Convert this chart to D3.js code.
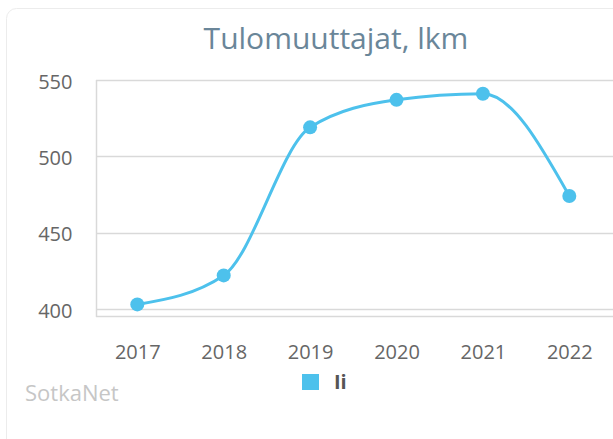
<!DOCTYPE html>
<html>
<head>
<meta charset="utf-8">
<script src="https://cdn.jsdelivr.net/npm/d3@7"></script>
<style>
  body { margin: 0; background: #fff; }
  svg { display: block; font-family: "Open Sans", sans-serif; }
</style>
</head>
<body>
<svg id="chart" width="613" height="439"></svg>
<script>
var years = ["2017", "2018", "2019", "2020", "2021", "2022"];
var values = [403, 422, 519, 537, 541, 474];
var yTicks = [400, 450, 500, 550];
var seriesName = "Ii";
var title = "Tulomuuttajat, lkm";

var svg = d3.select("#chart"),
    plot = {left: 96, right: 613, top: 80, bottom: 316};

// card outline
svg.append("rect")
    .attr("x", 6.5).attr("y", 8.5)
    .attr("width", 640).attr("height", 460)
    .attr("rx", 10)
    .attr("fill", "#fff")
    .attr("stroke", "#ececec");

var x = d3.scalePoint().domain(years).range([137.3, 569.3]);
var y = d3.scaleLinear().domain([400, 550]).range([309, 80]);

// grid
svg.append("g").selectAll("line")
    .data(yTicks)
    .enter().append("line")
    .attr("x1", plot.left).attr("x2", plot.right)
    .attr("y1", function (d) { return Math.round(y(d)) + 0.5; })
    .attr("y2", function (d) { return Math.round(y(d)) + 0.5; })
    .attr("stroke", "#d9d9d9")
    .attr("stroke-width", 1.5);

svg.append("line")
    .attr("x1", plot.left).attr("x2", plot.right)
    .attr("y1", plot.bottom + 0.5).attr("y2", plot.bottom + 0.5)
    .attr("stroke", "#d9d9d9").attr("stroke-width", 1.5);

svg.append("line")
    .attr("x1", plot.left + 0.5).attr("x2", plot.left + 0.5)
    .attr("y1", plot.top).attr("y2", plot.bottom + 1)
    .attr("stroke", "#d9d9d9").attr("stroke-width", 1.5);

// y labels
svg.append("g").selectAll("text")
    .data(yTicks)
    .enter().append("text")
    .attr("x", 72.5)
    .attr("y", function (d) { return y(d) + 8.5; })
    .attr("text-anchor", "end")
    .attr("font-size", 20)
    .attr("fill", "#666")
    .text(function (d) { return d; });

// x axis labels
var xAxis = svg.append("g")
    .attr("transform", "translate(0," + 359 + ")")
    .call(d3.axisBottom(x).tickSize(0).tickPadding(0));
xAxis.select(".domain").remove();
xAxis.selectAll("text")
    .attr("dy", 0)
    .attr("font-family", "Open Sans, sans-serif")
    .attr("font-size", 20)
    .attr("fill", "#666");

// line
var line = d3.line()
    .x(function (d, i) { return x(years[i]); })
    .y(function (d) { return y(d); })
    .curve(d3.curveMonotoneX);

svg.append("path")
    .datum(values)
    .attr("d", line)
    .attr("fill", "none")
    .attr("stroke", "#4dc1ec")
    .attr("stroke-width", 3);

svg.append("g").selectAll("circle")
    .data(values)
    .enter().append("circle")
    .attr("cx", function (d, i) { return x(years[i]); })
    .attr("cy", function (d) { return y(d); })
    .attr("r", 7)
    .attr("fill", "#4dc1ec");

// title
svg.append("text")
    .attr("x", 336).attr("y", 49)
    .attr("text-anchor", "middle")
    .attr("font-size", 30)
    .attr("fill", "#6a8699")
    .text(title);

// legend
svg.append("rect")
    .attr("x", 302).attr("y", 374)
    .attr("width", 17).attr("height", 16)
    .attr("fill", "#4dc1ec");
svg.append("text")
    .attr("x", 334).attr("y", 389)
    .attr("font-size", 20)
    .attr("font-weight", "bold")
    .attr("fill", "#555")
    .text(seriesName);

// credits
svg.append("text")
    .attr("x", 25).attr("y", 401)
    .attr("font-size", 22)
    .attr("fill", "#c6c6c6")
    .text("SotkaNet");
</script>
</body>
</html>
